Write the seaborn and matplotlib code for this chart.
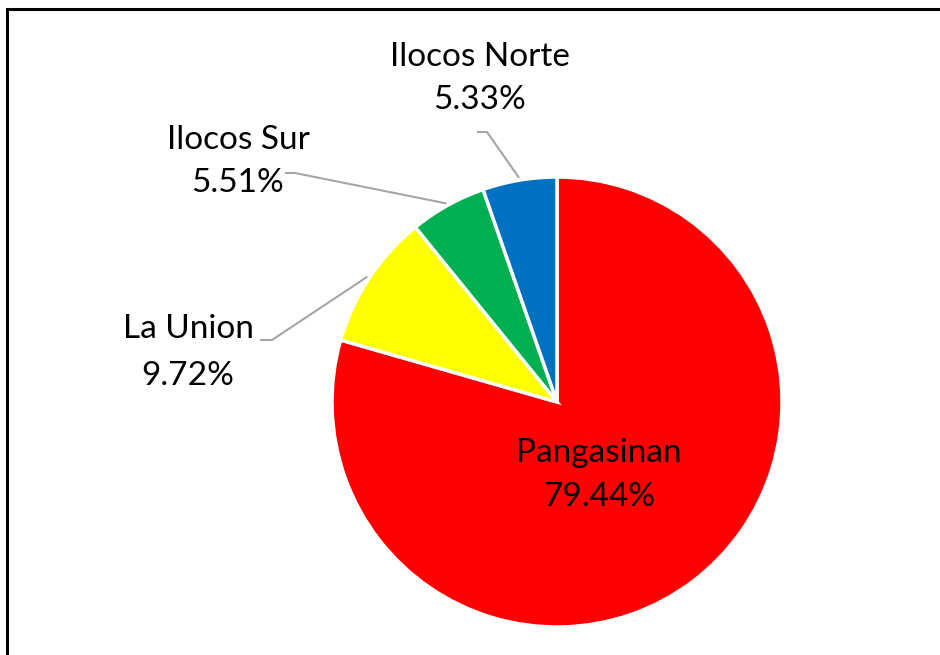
import numpy as np
import matplotlib
matplotlib.use("Agg")
import matplotlib.pyplot as plt
import seaborn as sns
from matplotlib.patches import Rectangle

sns.set_theme(style="white")
plt.rcParams['font.family'] = ['Lato', 'DejaVu Sans']

provinces = ["Pangasinan", "La Union", "Ilocos Sur", "Ilocos Norte"]
shares = [79.44, 9.72, 5.51, 5.33]
pct_labels = ["79.44%", "9.72%", "5.51%", "5.33%"]
colors = ["#FF0000", "#FFFF00", "#00B050", "#0070C0"]

W, H = 940, 655
fig = plt.figure(figsize=(W / 100, H / 100), dpi=100)
ax = fig.add_axes([0, 0, 1, 1])
ax.set_xlim(0, W)
ax.set_ylim(0, H)
ax.set_aspect('equal')
ax.axis('off')

cx, cy, R = 557, H - 402, 225
wedges, _ = ax.pie(shares, startangle=90, counterclock=False, colors=colors,
                   center=(cx, cy), radius=R, frame=True,
                   wedgeprops=dict(edgecolor='white', linewidth=2.5))
ax.set_xlim(0, W)
ax.set_ylim(0, H)
ax.axis('off')

fs = 24
# label layout: (name center x, name center y, value center y) in pixel coords (y down)
layout = {
    "Pangasinan": (599, 453, 497),
    "La Union": (188, 329, 376),
    "Ilocos Sur": (238, 140, 183),
    "Ilocos Norte": (480, 57, 100),
}
# leader elbows (start x, elbow x, y) in pixels
leaders = {
    "La Union": (260, 272, 340),
    "Ilocos Sur": (285, 295, 173),
    "Ilocos Norte": (477, 487, 132),
}

for w, name, pct in zip(wedges, provinces, pct_labels):
    x, ny, vy = layout[name]
    ax.text(x, H - ny, name, ha='center', va='center', fontsize=fs, color='black')
    ax.text(x, H - vy, pct, ha='center', va='center', fontsize=fs, color='black')
    if name in leaders:
        sx, ex, ly = leaders[name]
        mid = np.deg2rad((w.theta1 + w.theta2) / 2)
        px = w.center[0] + w.r * 1.01 * np.cos(mid)
        py = w.center[1] + w.r * 1.01 * np.sin(mid)
        ax.plot([sx, ex, px], [H - ly, H - ly, py], color='#A6A6A6', lw=1.5,
                solid_capstyle='butt', zorder=0)

fig.patches.append(Rectangle((7.5 / W, -0.1), 1.2, (H - 8.5) / H + 0.1,
                             transform=fig.transFigure, fill=False,
                             edgecolor='black', linewidth=2.2))

fig.savefig("out.png", dpi=100, facecolor='white')
